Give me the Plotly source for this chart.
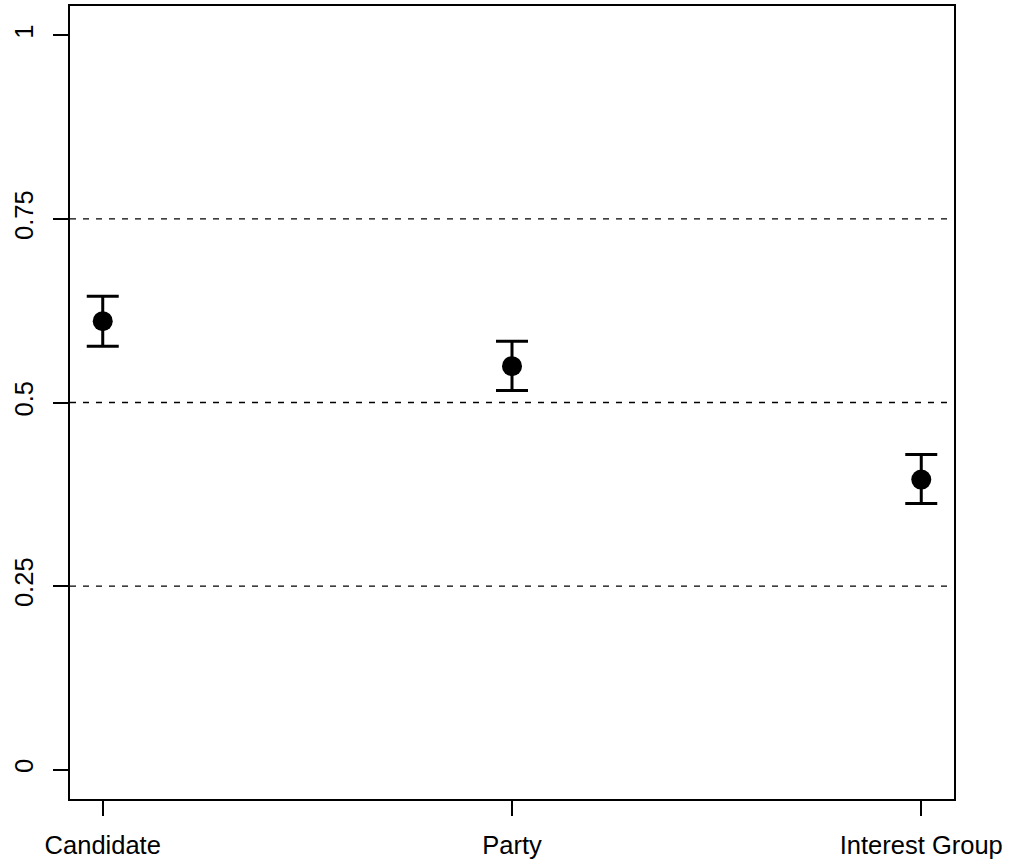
import plotly.graph_objects as go

# Estimated shares with confidence intervals for each sponsor type
categories = ["Candidate", "Party", "Interest Group"]
positions = [1, 2, 3]
estimates = [0.6108, 0.5495, 0.395]
upper = [0.6448, 0.5835, 0.4292]
lower = [0.5767, 0.5163, 0.3624]
y_ticks = [0, 0.25, 0.5, 0.75, 1]
y_tick_labels = ["0", "0.25", "0.5", "0.75", "1"]
ref_lines = [0.25, 0.5, 0.75]

err_plus = [u - m for u, m in zip(upper, estimates)]
err_minus = [m - l for m, l in zip(estimates, lower)]

fig = go.Figure()
fig.add_trace(go.Scatter(
    x=positions,
    y=estimates,
    mode="markers",
    marker=dict(color="black", size=20),
    error_y=dict(type="data", symmetric=False, array=err_plus, arrayminus=err_minus,
                 color="black", thickness=3, width=16),
    showlegend=False,
))

for v in ref_lines:
    fig.add_shape(type="line", xref="paper", x0=0, x1=1, yref="y", y0=v, y1=v,
                  line=dict(color="black", width=1.3, dash="6px,7px"), layer="below")

font = dict(family="Liberation Sans, Arial, sans-serif", size=25.5, color="black")

fig.update_layout(
    width=1011, height=865,
    margin=dict(l=70, r=57, t=6, b=66),
    paper_bgcolor="white", plot_bgcolor="white",
    font=font,
    xaxis=dict(
        range=[0.92, 3.08], tickvals=positions, ticktext=categories,
        showgrid=False, zeroline=False, showline=True, mirror=True,
        linecolor="black", linewidth=1.5, automargin=False,
        ticks="outside", ticklen=15, tickwidth=1.5, tickcolor="black",
        ticklabelstandoff=8, tickfont=font,
    ),
    yaxis=dict(
        range=[-0.04, 1.04], tickvals=y_ticks, ticktext=y_tick_labels,
        showgrid=False, zeroline=False, showline=True, mirror=True,
        linecolor="black", linewidth=1.5, automargin=False,
        ticks="outside", ticklen=15, tickwidth=1.5, tickcolor="black",
        tickangle=-90, ticklabelstandoff=10, tickfont=font,
    ),
)

fig.write_html("out.html")
